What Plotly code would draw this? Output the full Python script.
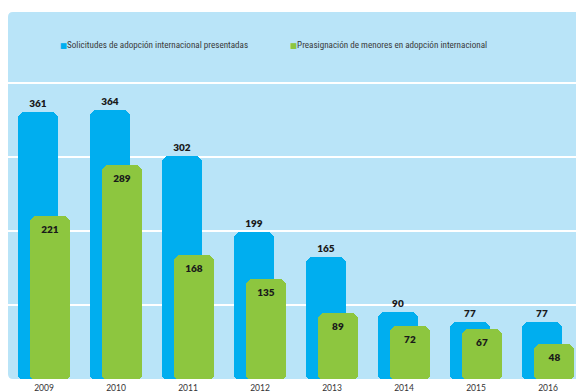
import plotly.graph_objects as go

# Data
years = ["2009", "2010", "2011", "2012", "2013", "2014", "2015", "2016"]
solicitudes = [361, 364, 302, 199, 165, 90, 77, 77]
preasignaciones = [221, 289, 168, 135, 89, 72, 67, 48]
series_names = [
    "Solicitudes de adopción internacional presentadas",
    "Preasignación de menores en adopción internacional",
]
grid_values = [100, 200, 300, 400]

BLUE = "#00aeef"
GREEN = "#8dc63f"
PANEL = "#b9e4f8"
LABEL_FONT = dict(family="Lato", size=10, color="#1a1a1a", weight=800)

W, H = 576, 392
ML, MR, MT, MB = 8, 0, 10, 13
plot_w = W - ML - MR
plot_h = H - MT - MB

BAR_W = 40 / 72          # bar width in category units
FOOT = 12                # short downward piece that gives bars a rounded base
RADIUS = 7

fig = go.Figure()


def add_series(values, color, offset, textpos):
    # main bar, rounded at the top
    fig.add_trace(go.Bar(
        x=years, y=values, base=0, width=BAR_W, offset=offset,
        marker=dict(color=color, line=dict(width=0), cornerradius=RADIUS),
        text=[str(v) for v in values], texttemplate="%{text}",
        textposition=textpos, insidetextanchor="end", textangle=0,
        textfont=LABEL_FONT, insidetextfont=LABEL_FONT, outsidetextfont=LABEL_FONT,
        constraintext="none", cliponaxis=False, showlegend=False,
    ))
    # rounded foot of the same bar
    fig.add_trace(go.Bar(
        x=years, y=[-FOOT] * len(values), base=[FOOT] * len(values),
        width=BAR_W, offset=offset,
        marker=dict(color=color, line=dict(width=0), cornerradius=RADIUS),
        hoverinfo="skip", showlegend=False,
    ))


add_series(solicitudes, BLUE, -26 / 72, "outside")
add_series(preasignaciones, GREEN, -14 / 72, "inside")

# Panel background with rounded left corners (paper coordinates)
top = (plot_h - (12 - MT)) / plot_h
rx, ry = 5 / plot_w, 5 / plot_h
panel_path = (
    f"M {rx},0 L 1.02,0 L 1.02,{top} L {rx},{top} "
    f"Q 0,{top} 0,{top - ry} L 0,{ry} Q 0,0 {rx},0 Z"
)
fig.add_shape(type="path", path=panel_path, xref="paper", yref="paper",
              fillcolor=PANEL, line=dict(width=0), layer="below")

# Legend drawn as text with coloured squares
legend_y = (H - MB - 44.5) / plot_h
legend_font = dict(family="Liberation Sans Narrow, Roboto Condensed, Roboto", size=9.1, color="#3a3a3a")
for name, color, px in [(series_names[0], BLUE, 58), (series_names[1], GREEN, 288)]:
    fig.add_annotation(
        x=(px - ML) / plot_w, y=legend_y, xref="paper", yref="paper",
        xanchor="left", yanchor="middle", showarrow=False,
        text=f"<span style='color:{color};font-family:DejaVu Sans;font-size:7.5px'>■</span>{name}",
        font=legend_font,
    )

fig.update_layout(
    width=W, height=H,
    margin=dict(l=ML, r=MR, t=MT, b=MB),
    paper_bgcolor="white", plot_bgcolor="rgba(0,0,0,0)",
    barmode="overlay", bargap=0,
    xaxis=dict(
        type="category", range=[-0.5, -0.5 + plot_w / 72],
        showgrid=False, zeroline=False, showline=False, ticks="",
        tickfont=dict(family="Lato", size=8.5, color="#333333"),
        ticklabelstandoff=2,
    ),
    yaxis=dict(
        range=[0, 499], tickvals=grid_values, showticklabels=False,
        showgrid=True, gridcolor="white", gridwidth=1.6,
        zeroline=False, showline=False,
    ),
    uniformtext=dict(mode=False),
)

fig.write_html("out.html")
